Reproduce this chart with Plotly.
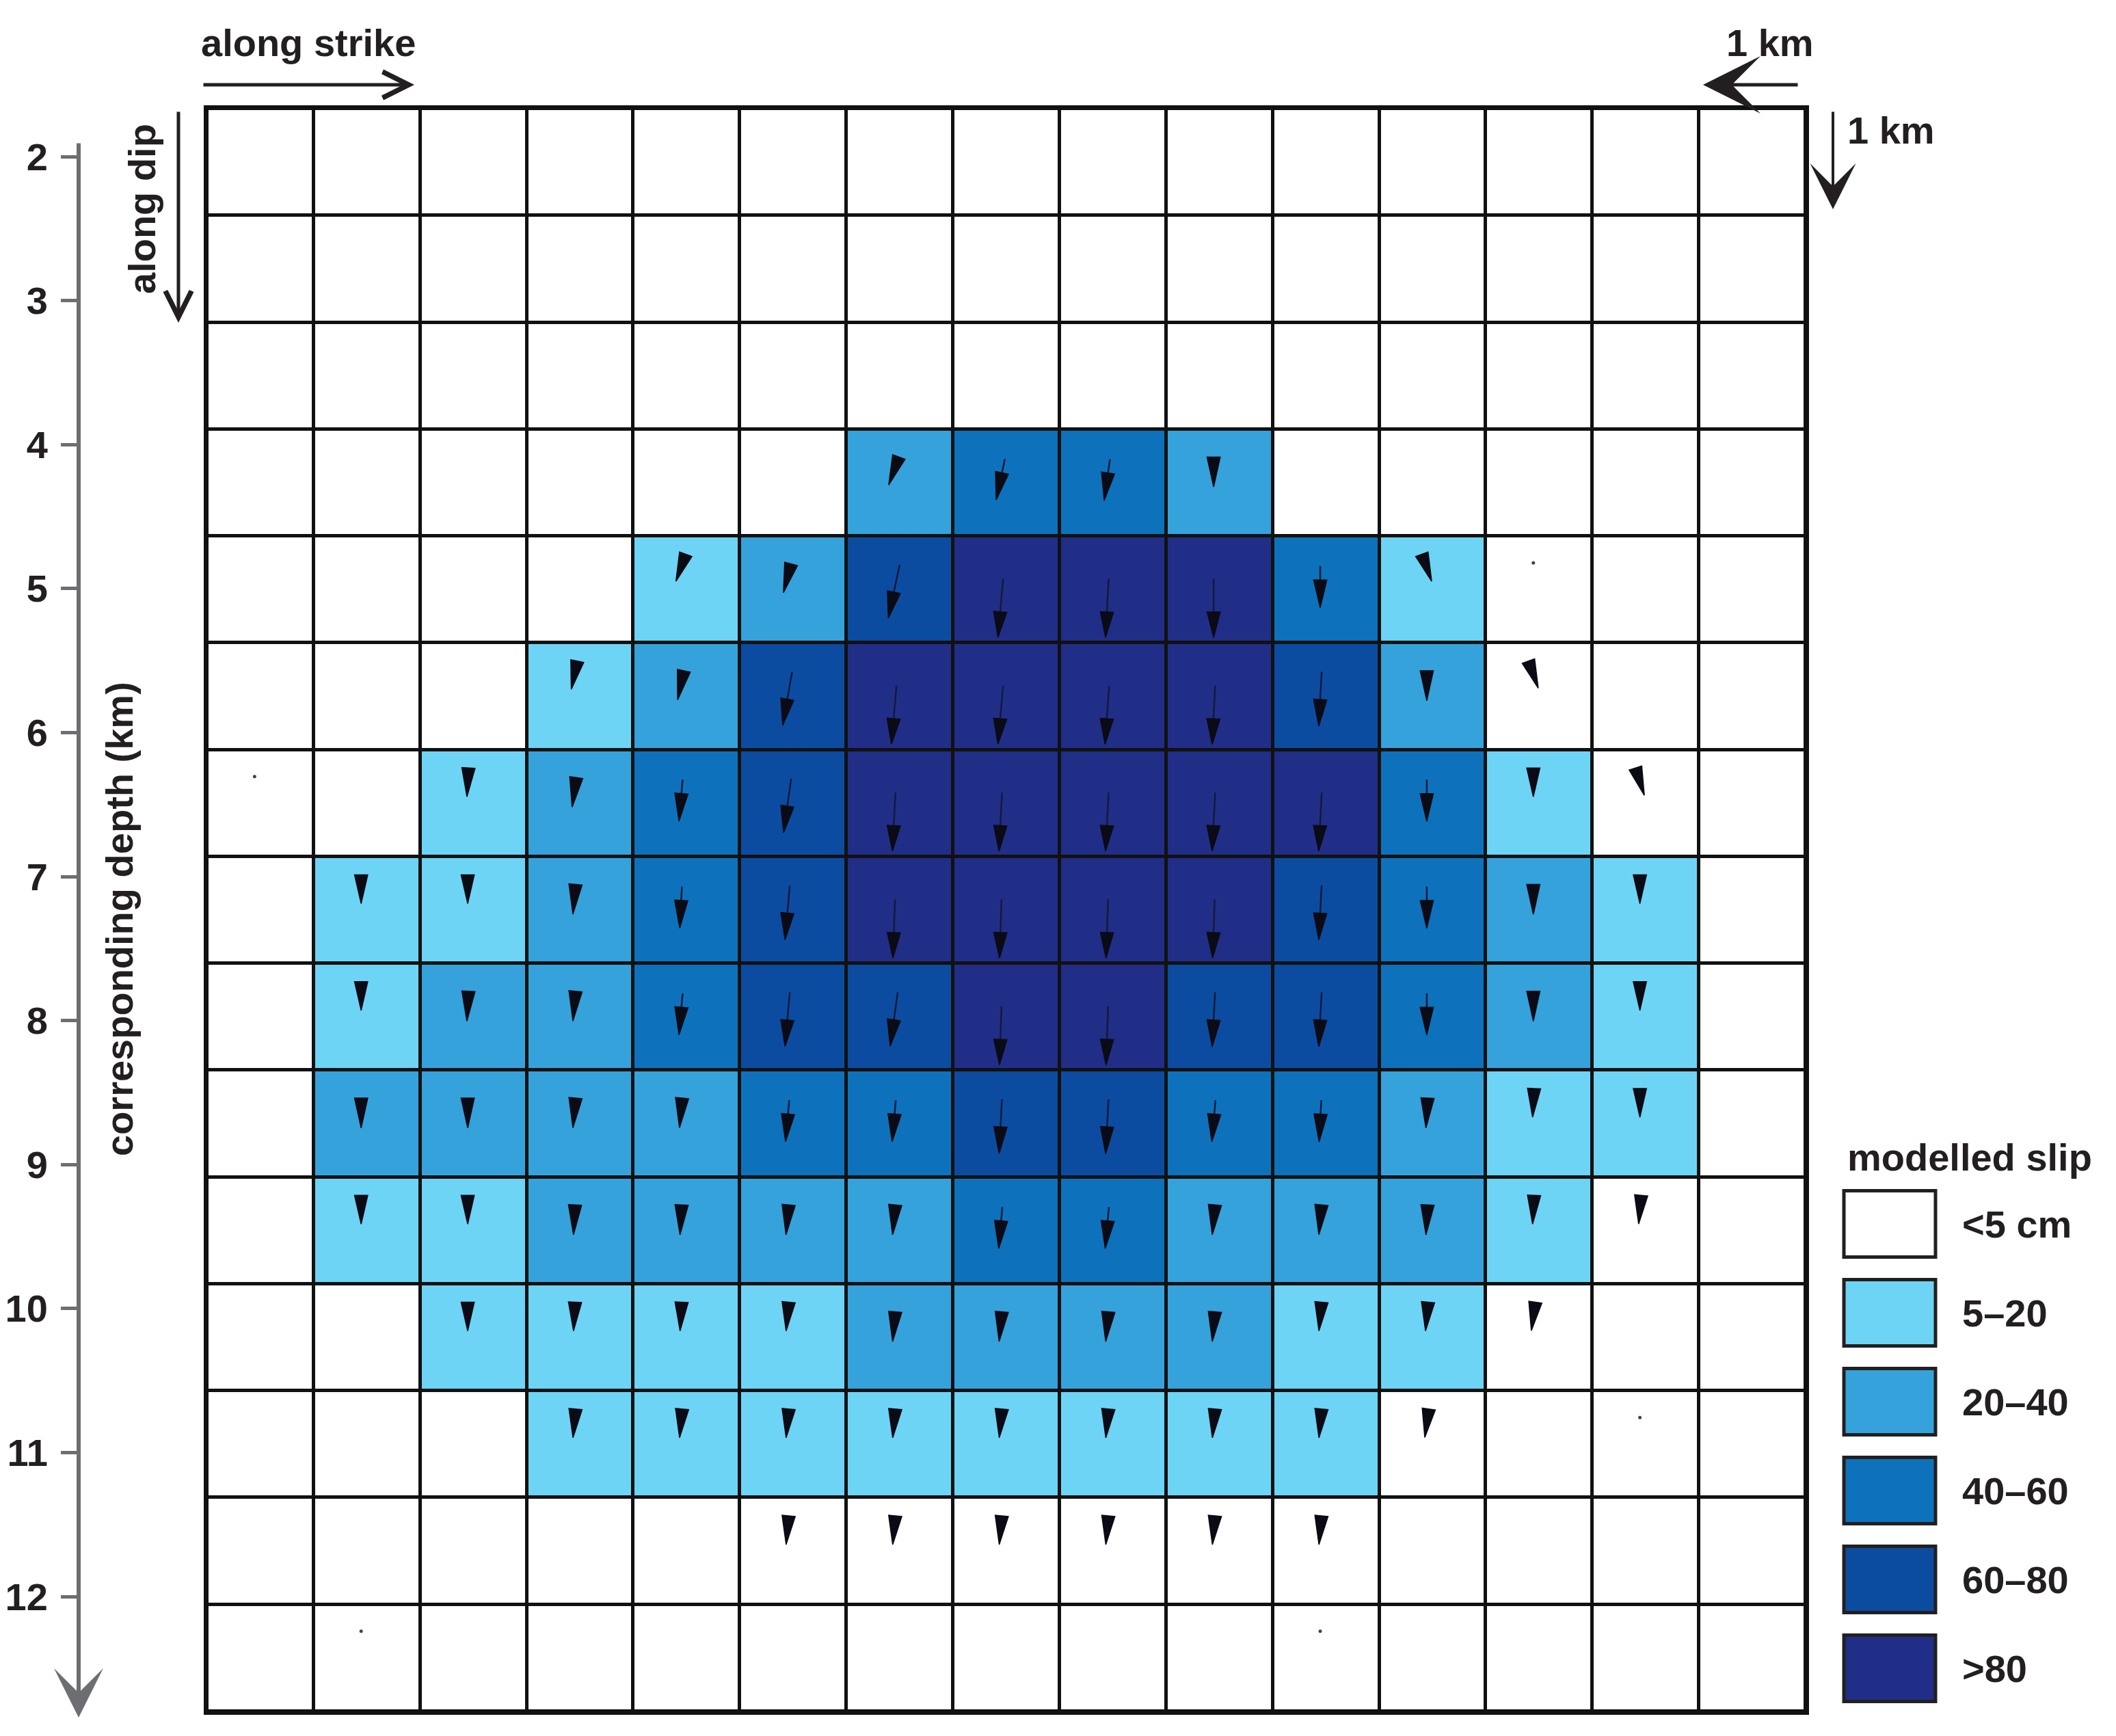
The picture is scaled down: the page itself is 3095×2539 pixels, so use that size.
import math
import plotly.graph_objects as go

# slip classes: 0 <5 cm, 1 5-20, 2 20-40, 3 40-60, 4 60-80, 5 >80 (rows top->bottom, cols left->right)
class_labels = ["<5 cm", "5–20", "20–40", "40–60", "60–80", ">80"]
class_colors = ["#ffffff", "#6ed4f5", "#35a2db", "#0d72bb", "#0c4ca0", "#212e87"]

slip_class = [
    [0, 0, 0, 0, 0, 0, 0, 0, 0, 0, 0, 0, 0, 0, 0],
    [0, 0, 0, 0, 0, 0, 0, 0, 0, 0, 0, 0, 0, 0, 0],
    [0, 0, 0, 0, 0, 0, 0, 0, 0, 0, 0, 0, 0, 0, 0],
    [0, 0, 0, 0, 0, 0, 2, 3, 3, 2, 0, 0, 0, 0, 0],
    [0, 0, 0, 0, 1, 2, 4, 5, 5, 5, 3, 1, 0, 0, 0],
    [0, 0, 0, 1, 2, 4, 5, 5, 5, 5, 4, 2, 0, 0, 0],
    [0, 0, 1, 2, 3, 4, 5, 5, 5, 5, 5, 3, 1, 0, 0],
    [0, 1, 1, 2, 3, 4, 5, 5, 5, 5, 4, 3, 2, 1, 0],
    [0, 1, 2, 2, 3, 4, 4, 5, 5, 4, 4, 3, 2, 1, 0],
    [0, 2, 2, 2, 2, 3, 3, 4, 4, 3, 3, 2, 1, 1, 0],
    [0, 1, 1, 2, 2, 2, 2, 3, 3, 2, 2, 2, 1, 0, 0],
    [0, 0, 1, 1, 1, 1, 2, 2, 2, 2, 1, 1, 0, 0, 0],
    [0, 0, 0, 1, 1, 1, 1, 1, 1, 1, 1, 0, 0, 0, 0],
    [0, 0, 0, 0, 0, 0, 0, 0, 0, 0, 0, 0, 0, 0, 0],
    [0, 0, 0, 0, 0, 0, 0, 0, 0, 0, 0, 0, 0, 0, 0],
]

# slip direction, degrees away from straight down (+ = towards right)
tilt = [
    [0, 0, 0, 0, 0, 0, 0, 0, 0, 0, 0, 0, 0, 0, 0],
    [0, 0, 0, 0, 0, 0, 0, 0, 0, 0, 0, 0, 0, 0, 0],
    [0, 0, 0, 0, 0, 0, 0, 0, 0, 0, 0, 0, 0, 0, 0],
    [0, 0, 0, 0, 0, 0, -20, -12, -8, 0, 0, 0, 0, 0, 0],
    [0, 0, 0, 0, -20, -15, -12, -5, -3, 0, 0, 20, 0, 0, 0],
    [0, 0, 0, -12, -12, -10, -5, -5, -4, -3, -3, 0, 20, 0, 0],
    [0, 0, -3, -8, -5, -8, -3, -3, -3, -3, -3, 0, 0, 18, 0],
    [0, 0, 0, -5, -3, -5, -2, -2, -2, -2, -3, 0, 0, 0, 0],
    [0, 0, -3, -5, -5, -5, -8, -2, -2, -3, -3, 0, 0, 0, 0],
    [0, 0, 0, -5, -5, -5, -5, -3, -3, -5, -3, -3, -3, 0, 0],
    [0, 0, 0, -3, -3, -5, -5, -5, -5, -5, -5, -3, -3, -5, 0],
    [0, 0, 0, -3, -3, -5, -5, -5, -5, -5, -5, -5, -8, 0, 0],
    [0, 0, 0, -5, -5, -5, -5, -5, -5, -5, -5, -8, 0, 0, 0],
    [0, 0, 0, 0, 0, -5, -5, -5, -5, -5, -5, 0, 0, 0, 0],
    [0, 0, 0, 0, 0, 0, 0, 0, 0, 0, 0, 0, 0, 0, 0],
]

# white (<5 cm) patches that still carry a slip arrow, and ones with just a speck
arrow_extra = [(5, 12), (6, 13), (10, 13), (11, 12), (12, 11),
               (13, 5), (13, 6), (13, 7), (13, 8), (13, 9), (13, 10)]
specks = [(4, 12), (6, 0), (14, 1), (14, 10), (12, 13)]

depth_ticks = [2, 3, 4, 5, 6, 7, 8, 9, 10, 11, 12]

N = 15
OFF = 8                      # page body margin of the html page
FW, FH = 3095 - OFF, 2539 - OFF
TXT = "#231f20"
GREY = "#6d6e71"
FONT = "Liberation Sans, Arial, sans-serif"

# arrow look per class (cell units): tail offset from top of patch, total length, head length
TAIL = [0.17, 0.17, 0.25, 0.28, 0.27, 0.40]
LENGTH = [0.27, 0.27, 0.29, 0.39, 0.51, 0.55]
HEAD_L = [0.27, 0.27, 0.28, 0.26, 0.25, 0.24]
HEAD_W = 0.062
SHIFT = -0.055

heads_x, heads_y, shaft_x, shaft_y = [], [], [], []
for r in range(N):
    for c in range(N):
        k = slip_class[r][c]
        if k == 0 and (r, c) not in arrow_extra:
            continue
        t = math.radians(tilt[r][c])
        dx, dy = math.sin(t), math.cos(t)
        L = LENGTH[k]
        tx, ty = c + SHIFT - dx * L / 2, r - 0.5 + TAIL[k]
        px_, py_ = tx + dx * L, ty + dy * L
        hl = HEAD_L[k]
        bx, by = px_ - dx * hl, py_ - dy * hl
        nx, ny = dy, -dx
        heads_x += [px_, bx + nx * HEAD_W, bx - nx * HEAD_W, px_, None]
        heads_y += [py_, by + ny * HEAD_W, by - ny * HEAD_W, py_, None]
        if L > hl + 0.04:
            shaft_x += [tx, bx, None]
            shaft_y += [ty, by, None]

scale = []
for i, col in enumerate(class_colors):
    scale += [[i / 6, col], [(i + 1) / 6, col]]

fig = go.Figure()
fig.add_trace(go.Heatmap(
    z=slip_class, x=list(range(N)), y=list(range(N)),
    colorscale=scale, zmin=-0.5, zmax=5.5, showscale=False,
    xgap=5, ygap=5, hoverinfo="skip",
))
fig.add_trace(go.Scatter(
    x=shaft_x, y=shaft_y, mode="lines",
    line=dict(color="#131a3c", width=2.5), hoverinfo="skip", showlegend=False,
))
fig.add_trace(go.Scatter(
    x=heads_x, y=heads_y, mode="lines", fill="toself", fillcolor="#0b0b16",
    line=dict(color="#0b0b16", width=1.5), hoverinfo="skip", showlegend=False,
))
fig.add_trace(go.Scatter(
    x=[c + SHIFT for r, c in specks], y=[r - 0.25 for r, c in specks], mode="markers",
    marker=dict(color="#444444", size=5), hoverinfo="skip", showlegend=False,
))
# carrier for the depth axis
fig.add_trace(go.Scatter(
    x=[0], y=[depth_ticks[0]], yaxis="y2", mode="markers",
    marker=dict(opacity=0), hoverinfo="skip", showlegend=False,
))
# legend boxes
fig.add_trace(go.Bar(
    x=[1] * 6, y=list(range(6)), orientation="h", width=0.746,
    marker=dict(color=class_colors, line=dict(color=TXT, width=5)),
    xaxis="x3", yaxis="y3", hoverinfo="skip", showlegend=False,
))

fig.add_shape(type="rect", xref="x", yref="y", x0=-0.5, x1=14.5, y0=-0.5, y1=14.5,
              fillcolor="#111111", line_width=0, layer="below")


def px(x):
    return (x - OFF) / FW


def py(y):
    return 1 - (y - OFF) / FH


bold = dict(family=FONT, size=56, color=TXT, weight="bold")
ann = []
ann.append(dict(text="along strike", x=px(292), y=py(63), xanchor="left", yanchor="middle"))
ann.append(dict(text="1 km", x=px(2655), y=py(63), xanchor="right", yanchor="middle"))
ann.append(dict(text="1 km", x=px(2700), y=py(191), xanchor="left", yanchor="middle"))
ann.append(dict(text="along dip", x=px(207), y=py(306), textangle=-90,
                xanchor="center", yanchor="middle"))
ann.append(dict(text="corresponding depth (km)", x=px(174), y=py(1344), textangle=-90,
                xanchor="center", yanchor="middle"))
ann.append(dict(text="modelled slip", x=px(2700), y=py(1692), xanchor="left", yanchor="middle"))
for a in ann:
    a.update(xref="paper", yref="paper", showarrow=False, font=bold)

arrows = [
    # x tip, y tip, ax, ay (px), head, size, width, color
    (606, 124, -310, 0, 5, 1.5, 5, TXT),
    (261, 472, 0, -310, 5, 1.5, 5, TXT),
    (2491, 124, 140, 0, 3, 2.8, 5, TXT),
    (2681, 306, 0, -144, 3, 2.8, 4, TXT),
    (115, 2512, 0, -2304, 3, 2.0, 6, GREY),
]
for xt, yt, axp, ayp, head, size, wid, col in arrows:
    ann.append(dict(
        x=px(xt), y=py(yt), xref="paper", yref="paper", text="", showarrow=True,
        ax=axp, ay=ayp, axref="pixel", ayref="pixel", arrowhead=head,
        arrowsize=size, arrowwidth=wid, arrowcolor=col, standoff=0,
    ))

# depth axis: 2 km at y=229px, 12 km at y=2335px
d_per_px = 10 / (2335 - 229)
top_d = 2 - (229 - 159) * d_per_px
bot_d = 12 + (2503 - 2335) * d_per_px

grid_axis = dict(showgrid=False, zeroline=False, showticklabels=False, ticks="",
                 showline=True, linecolor="#111111", linewidth=5, mirror=True)

fig.update_layout(
    width=FW, height=FH,
    margin=dict(l=0, r=0, t=0, b=0),
    paper_bgcolor="white", plot_bgcolor="white",
    showlegend=False,
    font=dict(family=FONT, color=TXT),
    xaxis=dict(domain=[px(303), px(2641)], range=[-0.5, 14.5], anchor="y", **grid_axis),
    yaxis=dict(domain=[py(2503), py(159)], range=[14.5, -0.5], anchor="x", **grid_axis),
    yaxis2=dict(
        overlaying="y", anchor="free", position=px(115), side="left",
        range=[bot_d, top_d], tickvals=depth_ticks,
        ticks="outside", ticklen=26, tickwidth=5, tickcolor=GREY,
        showline=False, showgrid=False, zeroline=False,
        tickfont=dict(family=FONT, size=56, color=TXT, weight="bold"),
        ticklabelstandoff=8,
    ),
    xaxis3=dict(domain=[px(2693), px(2835)], range=[-0.03, 1.03], anchor="y3",
                visible=False),
    yaxis3=dict(
        domain=[py(2505), py(1725)], range=[5.5, -0.5], anchor="x3", side="right",
        tickvals=list(range(6)), ticktext=class_labels, ticks="",
        showline=False, showgrid=False, zeroline=False,
        tickfont=dict(family=FONT, size=56, color=TXT, weight="bold"),
        ticklabelstandoff=34,
    ),
    annotations=ann,
)

fig.write_html("out.html")
